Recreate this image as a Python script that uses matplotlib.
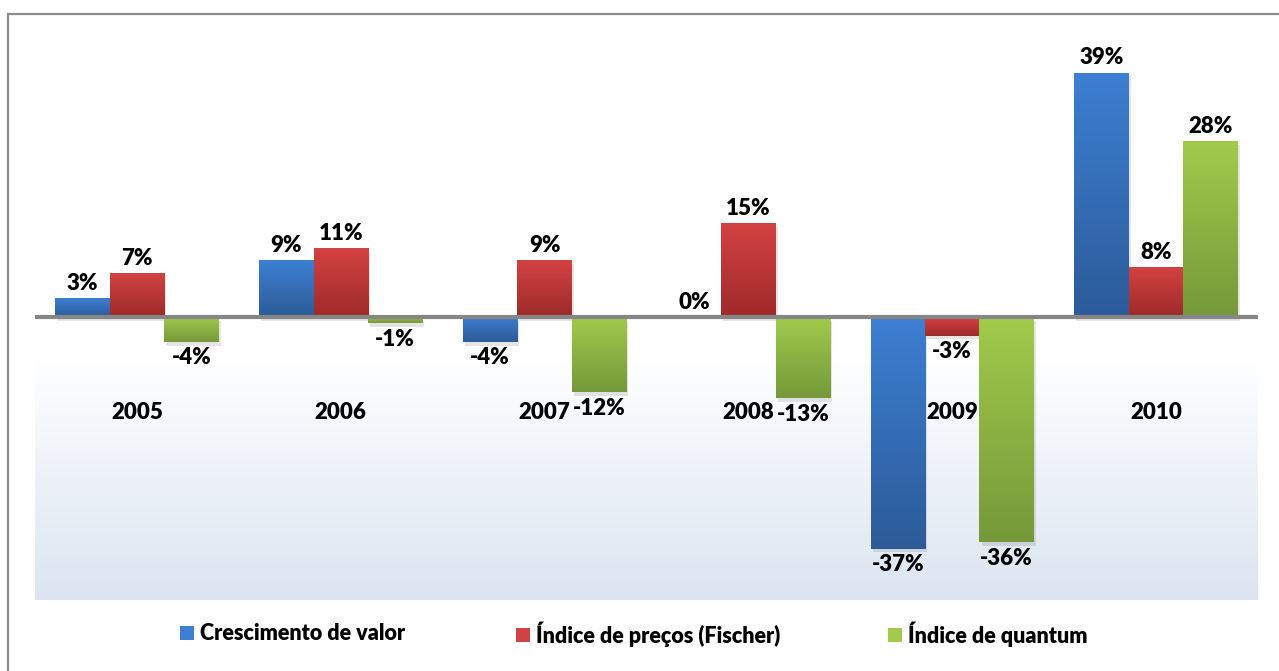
import matplotlib
matplotlib.use("Agg")
import matplotlib.pyplot as plt
import numpy as np
from matplotlib.patches import Rectangle, Patch
from matplotlib.colors import LinearSegmentedColormap

plt.rcParams.update({
    "font.family": ["Lato", "DejaVu Sans"],
    "font.weight": "heavy",
    "font.size": 16,
})

anos = ["2005", "2006", "2007", "2008", "2009", "2010"]
crescimento = [3, 9, -4, 0, -37, 39]
fischer = [7, 11, 9, 15, -3, 8]
quantum = [-4, -1, -12, -13, -36, 28]

series = [
    ("Crescimento de valor", crescimento, "#3d7fd2", "#2c5b98"),
    ("Índice de preços (Fischer)", fischer, "#d34242", "#9e2a2a"),
    ("Índice de quantum", quantum, "#a2cb4c", "#76983a"),
]

W, H = 1279, 671
fig = plt.figure(figsize=(W / 100, H / 100), dpi=100)
ax = fig.add_axes([35 / W, 1 - 600 / H, (1258 - 35) / W, (600 - 60) / H])

# moldura cinza
fig.add_artist(Rectangle((8 / W, -0.1), 1.2, 1 - 14 / H + 0.1, transform=fig.transFigure,
                         fill=False, edgecolor="#8c8c8c", linewidth=1.6))

# fundo em degradê
grad = np.linspace(0, 1, 256).reshape(-1, 1)
bg = LinearSegmentedColormap.from_list("bg", [(0, "#dbe5f1"), (0.45, "#ffffff"), (1, "#ffffff")])
ax.imshow(grad, cmap=bg, extent=[0, 1, 0, 1], transform=ax.transAxes,
          aspect="auto", origin="lower", zorder=0)

x = np.arange(len(anos))
width = 0.267
for i, (nome, vals, c1, c2) in enumerate(series):
    cmap = LinearSegmentedColormap.from_list(nome, [c2, c1])
    pos = x + (i - 1) * width
    bars = ax.bar(pos, vals, width, color="none", edgecolor="none", zorder=2)
    for p, b, v in zip(pos, bars, vals):
        x0 = b.get_x()
        y0, y1 = min(0, v), max(0, v)
        # sombra
        ax.add_patch(Rectangle((x0 + 0.01, y0 - 0.6), width, y1 - y0, facecolor="#000000",
                               alpha=0.10, edgecolor="none", zorder=1.5))
        im = ax.imshow(grad, cmap=cmap, extent=[x0, x0 + width, y0, y1],
                       aspect="auto", origin="lower", zorder=2)
        im.set_clip_path(b)
        if v >= 0:
            ax.annotate(f"{v}%", (p, v), xytext=(0, 3), textcoords="offset points",
                        ha="center", va="bottom", fontsize=16, zorder=4)
        else:
            ax.annotate(f"{v}%", (p, v), xytext=(0, -4), textcoords="offset points",
                        ha="center", va="top", fontsize=16, zorder=4)

ax.axhline(0, color="#868686", linewidth=3, zorder=3)

for xi, ano in zip(x, anos):
    ax.text(xi, -15.3, ano, ha="center", va="center", fontsize=16, zorder=4)

ax.set_xlim(-0.5, 5.5)
ax.set_ylim(-45.2, 41)
ax.set_xticks([])
ax.set_yticks([])
for s in ax.spines.values():
    s.set_visible(False)

# legenda (uma entrada por posição)
leg_x = [180, 516, 888]
for (nome, _, c1, _), lx in zip(series, leg_x):
    leg = fig.legend(handles=[Patch(facecolor=c1, edgecolor="none", label=nome)],
                     loc="center left", bbox_to_anchor=(lx / W, 1 - 634 / H),
                     frameon=False, fontsize=15.5, handlelength=0.65, handleheight=0.65,
                     handletextpad=0.3, borderpad=0, borderaxespad=0)

fig.savefig("out.png", dpi=100)
